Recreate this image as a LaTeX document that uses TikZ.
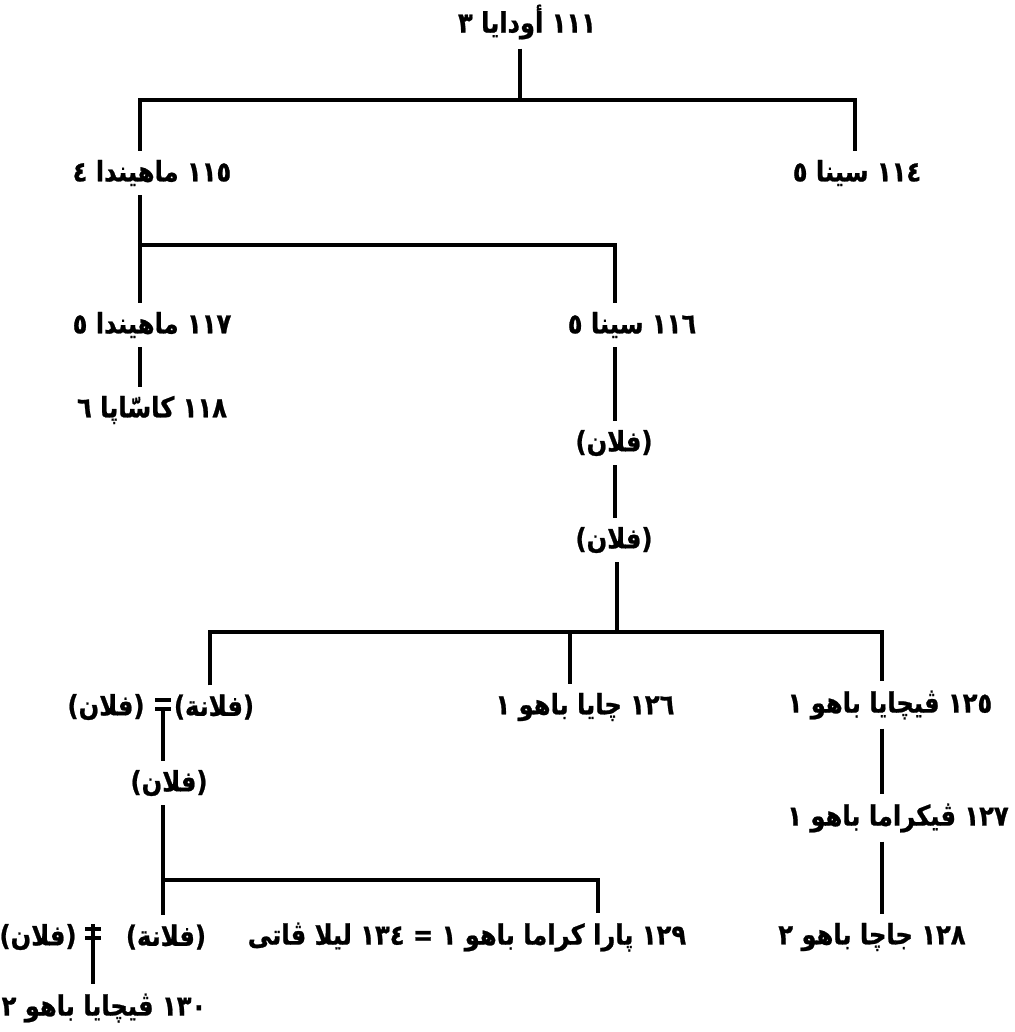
\documentclass[tikz,border=0pt]{standalone}
\usepackage{fontspec}
\usepackage{xcolor}
\usetikzlibrary{positioning}
\TeXXeTstate=1
\newfontfamily\arabicfont[Script=Arabic,FakeStretch=0.86,FakeBold=0.8]{DejaVu Sans}
\definecolor{ink}{gray}{0.0}
\newcommand\rl[1]{\beginR #1\endR}
\tikzset{
  person/.style={font=\arabicfont\bfseries\fontsize{16}{19}\selectfont,
                 text=ink, inner sep=5pt},
  tie/.style={draw=ink, line width=2pt},
}

\begin{document}
\begin{tikzpicture}[x=0.02cm, y=-0.02cm]
        \useasboundingbox (0,0) rectangle (1015,1032);
        % people
        \node[person] (n111) at (527,22)  {\rl{١١١ أودايا ٣}};
        \node[person] (n115) at (152,173) {\rl{١١٥ ماهيندا ٤}};
        \node[person] (n114) at (857,173) {\rl{١١٤ سينا ٥}};
        \node[person] (n117) at (152,325) {\rl{١١٧ ماهيندا ٥}};
        \node[person] (n116) at (632,325) {\rl{١١٦ سينا ٥}};
        \node[person] (n118) at (152,410) {\rl{١١٨ كاسّاپا ٦}};
        \node[person] (f1)   at (614,443) {\rl{(فلان)}};
        \node[person] (f2)   at (614,540) {\rl{(فلان)}};
        \node[person] (w1)   at (214,707) {\rl{(فلانة)}};
        \node[person] (h1)   at (106,707) {\rl{(فلان)}};
        \node[person] (n126) at (585,707) {\rl{١٢٦ چايا باهو ١}};
        \node[person] (n125) at (890,705) {\rl{١٢٥ ڤيچايا باهو ١}};
        \node[person] (f3)   at (169,783) {\rl{(فلان)}};
        \node[person] (n127) at (898,818) {\rl{١٢٧ ڤيكراما باهو ١}};
        \node[person] (w2)   at (166,937) {\rl{(فلانة)}};
        \node[person] (h2)   at (38,937)  {\rl{(فلان)}};
        \node[person] (n129) at (467,937) {\rl{١٢٩ پارا كراما باهو ١ = ١٣٤ ليلا ڤاتى}};
        \node[person] (n128) at (872,937) {\rl{١٢٨ جاچا باهو ٢}};
        \node[person] (n130) at (104,1008) {\rl{١٣٠ ڤيچايا باهو ٢}};
        % bars
        \coordinate (j1) at (520,100);
        \coordinate (b1l) at (140,100);
        \coordinate (b1r) at (855,100);
        \coordinate (b2l) at (140,245);
        \coordinate (b2r) at (615,245);
        \coordinate (j3) at (617,632);
        \coordinate (b3l) at (210,632);
        \coordinate (b3m) at (570,632);
        \coordinate (b3r) at (882,632);
        \coordinate (b4l) at (163,880);
        \coordinate (b4r) at (598,880);
        \coordinate (m1) at (163,705);
        \coordinate (m2) at (93,934);
        % lines
        \draw[tie] (n111.south -| j1) -- (j1);
        \draw[tie] (b1l |- n115.north) -- (b1l) -- (b1r) -- (b1r |- n114.north);
        \draw[tie] (n115.south -| b2l) -- (b2l) -- (b2r) -- (b2r |- n116.north);
        \draw[tie] (b2l) -- (b2l |- n117.north);
        \draw[tie] (b2l |- n117.south) -- (b2l |- n118.north);
        \draw[tie] (b2r |- n116.south) -- (b2r |- f1.north);
        \draw[tie] (b2r |- f1.south) -- (b2r |- f2.north);
        \draw[tie] (f2.south -| j3) -- (j3);
        \draw[tie] (b3l |- w1.north) -- (b3l) -- (b3r) -- (b3r |- n125.north);
        \draw[tie] (b3m) -- (b3m |- n126.north);
        \draw[tie] (b3r |- n125.south) -- (b3r |- n127.north);
        \draw[tie] (b3r |- n127.south) -- (b3r |- n128.north);
        % marriages
        \draw[tie] (m1) ++(-8,-5) -- ++(16,0);
        \draw[tie] (m1) ++(-8,4) -- ++(16,0);
        \draw[tie] (m1) ++(0,4) -- (m1 |- f3.north);
        \draw[tie] (f3.south -| b4l) -- (b4l) -- (b4r) -- (b4r |- n129.north);
        \draw[tie] (b4l) -- (b4l |- w2.north);
        \draw[tie] (m2) ++(-8,-5) -- ++(16,0);
        \draw[tie] (m2) ++(-8,4) -- ++(16,0);
        \draw[tie] (m2) ++(0,-10) -- (m2 |- n130.north);
      \end{tikzpicture}
\end{document}
